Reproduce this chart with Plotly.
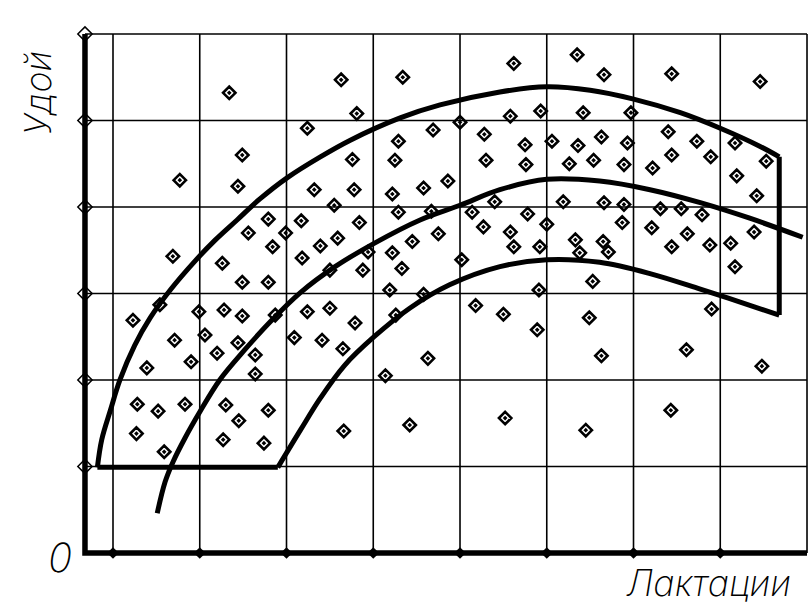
import plotly.graph_objects as go

# ---- grid / tick positions (data units) ----
x_grid = [0, 1, 2, 3, 4, 5, 6, 7, 8]
y_grid = [1, 2, 3, 4, 5, 6]
x_axis_pos = -0.323
x_dot_ticks = [0, 1, 2, 3, 4, 5, 6, 7]

# ---- scatter observations ----
pts_x = [5.35, 4.62, 3.34, 5.66, 6.44, 2.63, 7.46, 1.34, 2.81, 4.93, 4.58, 5.42, 5.97,
         2.24, 4.00, 3.69, 3.29, 4.28, 5.06, 5.36, 5.63, 5.93, 6.40, 4.75, 7.17, 6.73,
         1.49, 2.76, 3.25, 4.30, 4.76, 5.26, 5.54, 5.89, 6.22, 6.44, 6.89, 7.53,
         0.77, 1.44, 2.32, 2.78, 3.22, 3.58, 3.86, 7.19,
         1.79, 2.17, 2.55, 2.84, 3.29, 3.67, 4.14, 4.40, 4.78, 5.19, 5.66, 5.89, 6.31,
         6.55, 6.79, 7.42,
         1.56, 1.99, 2.39, 2.59, 3.45, 3.75, 4.27, 4.58, 5.00, 5.33, 5.65, 5.87, 6.21,
         6.62, 7.12, 7.39,
         0.69, 1.84, 1.26, 1.49, 1.79, 2.18, 2.50, 2.94, 3.33, 3.22, 4.02, 4.62, 4.92,
         5.38, 5.71, 6.44, 6.88, 7.17, 2.88, 3.19, 3.58, 4.91, 5.53,
         0.54, 0.23, 0.99, 1.28, 1.49, 1.87, 2.24, 2.50, 2.79, 3.26, 4.18, 4.50, 5.49, 6.90,
         0.71, 1.06, 1.44, 2.09, 2.41, 2.65, 4.89,
         0.39, 0.90, 1.20, 1.64, 3.14, 3.63, 5.63, 6.61, 7.48, 1.64,
         0.28, 0.52, 0.83, 1.30, 1.45, 1.79,
         0.27, 0.59, 1.27, 1.74, 2.66, 3.42, 4.52, 5.45, 6.43]
pts_y = [5.76, 5.66, 5.50, 5.53, 5.54, 5.47, 5.45, 5.32, 5.08, 5.11, 5.05, 5.09, 5.09,
         4.91, 4.98, 4.89, 4.76, 4.84, 4.76, 4.71, 4.81, 4.74, 4.87, 4.72, 4.74, 4.76,
         4.60, 4.55, 4.54, 4.54, 4.49, 4.50, 4.54, 4.49, 4.45, 4.60, 4.58, 4.53,
         4.31, 4.24, 4.20, 4.20, 4.15, 4.22, 4.30, 4.36,
         3.86, 3.84, 4.02, 3.82, 3.94, 3.95, 3.94, 4.06, 3.92, 4.06, 4.05, 4.03, 3.98,
         3.98, 3.91, 4.13,
         3.70, 3.70, 3.55, 3.64, 3.60, 3.69, 3.77, 3.71, 3.80, 3.62, 3.60, 3.82, 3.76,
         3.69, 3.58, 3.71,
         3.43, 3.54, 3.35, 3.13, 3.13, 3.41, 3.27, 3.48, 3.29, 3.47, 3.39, 3.54, 3.54,
         3.47, 3.48, 3.54, 3.56, 3.31, 3.27, 3.04, 2.99, 3.04, 3.14,
         2.87, 2.69, 2.79, 2.81, 2.74, 2.75, 2.79, 2.83, 2.66, 2.75, 2.86, 2.76, 2.72, 2.82,
         2.46, 2.52, 2.43, 2.49, 2.46, 2.36, 2.58,
         2.14, 2.21, 2.31, 2.29, 2.05, 2.25, 2.28, 2.35, 2.16, 2.07,
         1.72, 1.64, 1.72, 1.71, 1.53, 1.65,
         1.38, 1.17, 1.31, 1.27, 1.41, 1.48, 1.56, 1.42, 1.65]

# ---- band boundaries ----
upper_x = [-0.18, -0.13, -0.03, 0.08, 0.25, 0.43, 0.66, 0.95, 1.18, 1.43, 1.69, 2.01,
           2.39, 2.73, 3.31, 3.77, 4.46, 5.00, 5.50, 5.99, 6.54, 7.00, 7.46, 7.68]
upper_y = [0.99, 1.31, 1.65, 2.00, 2.40, 2.72, 3.04, 3.38, 3.62, 3.85, 4.09, 4.34,
           4.58, 4.77, 5.03, 5.18, 5.33, 5.39, 5.35, 5.25, 5.09, 4.91, 4.70, 4.58]
lower_x = [1.90, 2.16, 2.39, 2.67, 3.01, 3.42, 3.88, 4.46, 5.00, 5.61, 6.19, 6.77, 7.23, 7.68]
lower_y = [0.99, 1.42, 1.79, 2.17, 2.50, 2.83, 3.10, 3.31, 3.39, 3.36, 3.23, 3.05, 2.90, 2.75]
mid_x = [0.51, 0.60, 0.69, 0.83, 1.00, 1.23, 1.52, 1.81, 2.16, 2.56, 3.01, 3.54, 4.00,
         4.46, 5.00, 5.61, 6.19, 6.77, 7.34, 7.95]
mid_y = [0.46, 0.82, 1.05, 1.33, 1.63, 2.00, 2.35, 2.67, 3.01, 3.31, 3.58, 3.85, 4.02,
         4.20, 4.32, 4.30, 4.20, 4.05, 3.87, 3.65]

fig = go.Figure()

# grid lines
gx, gy = [], []
for xv in x_grid:
    gx += [xv, xv, None]
    gy += [0, y_grid[-1], None]
for yv in y_grid:
    gx += [x_axis_pos, x_grid[-1], None]
    gy += [yv, yv, None]
fig.add_trace(go.Scatter(x=gx, y=gy, mode="lines", line=dict(color="black", width=1.6),
                         hoverinfo="skip"))

# band curves
thick = dict(color="black", width=5)
fig.add_trace(go.Scatter(x=upper_x, y=upper_y, mode="lines", line=dict(thick, shape="spline")))
fig.add_trace(go.Scatter(x=[upper_x[-1], lower_x[-1]], y=[upper_y[-1], lower_y[-1]],
                         mode="lines", line=thick))
fig.add_trace(go.Scatter(x=lower_x, y=lower_y, mode="lines", line=dict(thick, shape="spline")))
fig.add_trace(go.Scatter(x=[lower_x[0], upper_x[0]], y=[lower_y[0], upper_y[0]],
                         mode="lines", line=thick))
fig.add_trace(go.Scatter(x=mid_x, y=mid_y, mode="lines", line=dict(thick, shape="spline")))

# axes (thick)
fig.add_trace(go.Scatter(x=[x_axis_pos, x_axis_pos, x_grid[-1]], y=[y_grid[-1], 0, 0],
                         mode="lines", line=dict(color="black", width=5.5)))
fig.add_trace(go.Scatter(x=[x_axis_pos] * len(y_grid), y=y_grid, mode="markers",
                         marker=dict(symbol="diamond-open", size=11, color="black",
                                     line=dict(width=1.5)), cliponaxis=False))
fig.add_trace(go.Scatter(x=x_dot_ticks, y=[0] * len(x_dot_ticks), mode="markers",
                         marker=dict(symbol="diamond", size=9, color="black"),
                         cliponaxis=False))

# observations
fig.add_trace(go.Scatter(x=pts_x, y=pts_y, mode="markers",
                         marker=dict(symbol="diamond-open-dot", size=9.5, color="black",
                                     line=dict(width=2.6))))

font_fam = "Inter, DejaVu Sans"
lab_font = dict(family=font_fam, size=36, color="black", style="italic", weight=200)
fig.add_annotation(x=-0.0432, y=0.867, xref="paper", yref="paper", text="Удой",
                   textangle=-90, showarrow=False, xanchor="center", yanchor="middle",
                   font=lab_font)
fig.add_annotation(x=-0.0135, y=0.0236, xref="paper", yref="paper", text="0",
                   showarrow=False, xanchor="center", yanchor="middle",
                   font=dict(lab_font, size=40))
fig.add_annotation(x=0.862, y=-0.0236, xref="paper", yref="paper", text="Лактации",
                   showarrow=False, xanchor="center", yanchor="middle",
                   font=lab_font)

fig.update_layout(
    width=811, height=614,
    margin=dict(l=70, r=0, t=20, b=44),
    paper_bgcolor="white", plot_bgcolor="white",
    showlegend=False,
    xaxis=dict(range=[-0.4957, 8.046], visible=False, fixedrange=True),
    yaxis=dict(range=[-0.1966, 6.1618], visible=False, fixedrange=True),
)

fig.write_html("out.html", config={"displayModeBar": False},
               post_script="document.body.style.margin='0px';"
                           "document.body.style.overflow='hidden';")
